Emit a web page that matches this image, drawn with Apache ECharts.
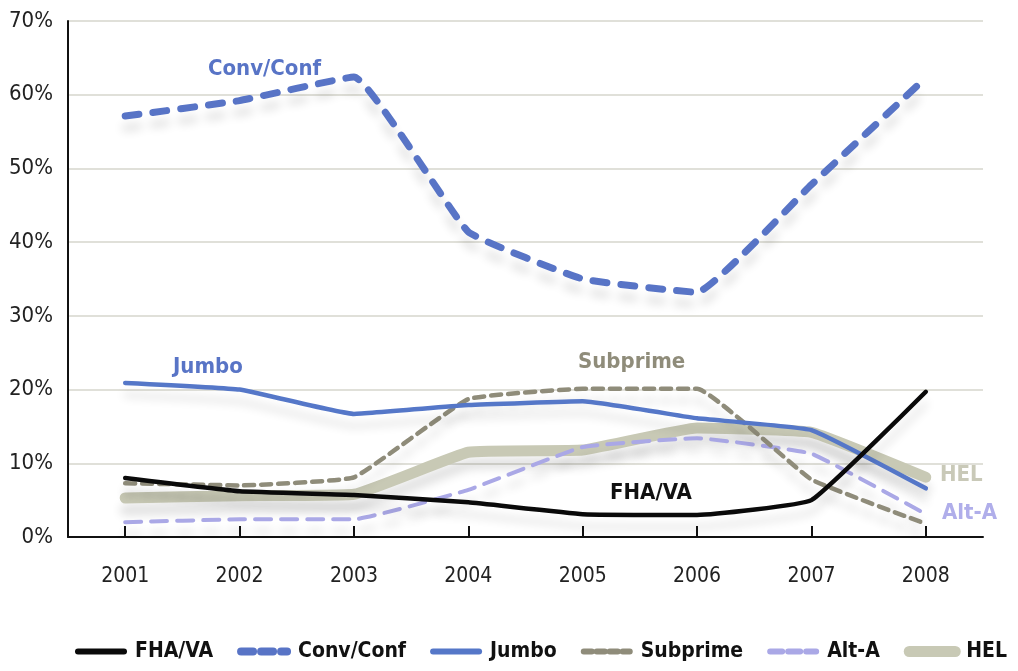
<!DOCTYPE html>
<html>
<head>
<meta charset="utf-8">
<script src="https://cdn.jsdelivr.net/npm/echarts@6/dist/echarts.min.js"></script>
<style>
  html, body { margin: 0; padding: 0; background: #fff; }
  #chart { width: 1018px; height: 671px; }
</style>
</head>
<body>
<div id="chart"></div>
<script>
const years = ['2001', '2002', '2003', '2004', '2005', '2006', '2007', '2008']
const fhaVa = [8.0, 6.2, 5.7, 4.7, 3.1, 3.0, 5.0, 19.7]
const convConf = [57.1, 59.2, 62.4, 41.4, 35.0, 33.2, 47.8, 62.3]
const jumbo = [20.9, 20.0, 16.7, 17.9, 18.4, 16.1, 14.5, 6.6]
const subprime = [7.3, 7.0, 8.1, 18.7, 20.1, 20.1, 7.8, 1.8]
const altA = [2.0, 2.4, 2.4, 6.4, 12.2, 13.4, 11.3, 3.1]
const hel = [5.3, 5.6, 5.8, 11.5, 11.8, 14.8, 14.2, 8.1]

const font = '"DejaVu Sans Condensed", "Liberation Sans Narrow", Roboto, sans-serif'
const shadow = { shadowColor: 'rgba(0,0,0,0.12)', shadowBlur: 10, shadowOffsetY: 12 }

function line (name, data, color, width, type, z) {
  return {
    name,
    type: 'line',
    data,
    z,
    symbol: 'none',
    smooth: 0.1,
    lineStyle: Object.assign({ color, width, type, cap: 'round', join: 'round' }, shadow),
    itemStyle: { color }
  }
}

function legendItem (name, color, width, type) {
  return { name, itemStyle: { opacity: 0 }, lineStyle: { color, width, type, cap: 'round', shadowBlur: 0, shadowOffsetY: 0 } }
}

const chart = echarts.init(document.getElementById('chart'), null, { renderer: 'canvas' })

chart.setOption({
  backgroundColor: '#ffffff',
  animation: false,
  grid: { left: 68, right: 35, top: 21, bottom: 134, containLabel: false },
  xAxis: {
    type: 'category',
    data: years,
    boundaryGap: true,
    axisLine: { lineStyle: { color: '#111', width: 2 } },
    axisTick: { show: true, inside: true, alignWithLabel: true, length: 11, lineStyle: { color: '#111', width: 2 } },
    axisLabel: { color: '#222', fontSize: 21, fontFamily: font, margin: 29 },
    splitLine: { show: false }
  },
  yAxis: {
    type: 'value',
    min: 0,
    max: 70,
    interval: 10,
    axisLine: { show: true, lineStyle: { color: '#111', width: 2 } },
    axisTick: { show: false },
    axisLabel: { formatter: '{value}%', color: '#222', fontSize: 22, fontFamily: font, margin: 15 },
    splitLine: { lineStyle: { color: '#d6d6cc', width: 1.5 } }
  },
  legend: {
    bottom: 4,
    left: 70,
    itemWidth: 46,
    itemHeight: 10,
    itemGap: 24,
    textStyle: { fontSize: 21, fontWeight: 'bold', fontFamily: font, color: '#111', padding: [0, 0, 0, 6] },
    data: [
      legendItem('FHA/VA', '#0a0a0a', 6, 'solid'),
      legendItem('Conv/Conf', '#5874c6', 8, [12, 8]),
      legendItem('Jumbo', '#5577c8', 6, 'solid'),
      legendItem('Subprime', '#8f8c7a', 6, [8, 5]),
      legendItem('Alt-A', '#aaa8e6', 6, [12, 6]),
      legendItem('HEL', '#c8c9b5', 11, 'solid')
    ]
  },
  graphic: [
    { type: 'text', left: 208, top: 58, style: { text: 'Conv/Conf', fill: '#5874c6', font: 'bold 22px ' + font } },
    { type: 'text', left: 173, top: 356, style: { text: 'Jumbo', fill: '#5874c6', font: 'bold 22px ' + font } },
    { type: 'text', left: 578, top: 351, style: { text: 'Subprime', fill: '#8f8c7a', font: 'bold 22px ' + font } },
    { type: 'text', left: 610, top: 482, style: { text: 'FHA/VA', fill: '#111', font: 'bold 22px ' + font } },
    { type: 'text', left: 940, top: 464, style: { text: 'HEL', fill: '#c9c9b8', font: 'bold 22px ' + font } },
    { type: 'text', left: 942, top: 502, style: { text: 'Alt-A', fill: '#b0aeea', font: 'bold 22px ' + font } }
  ],
  series: [
    line('HEL', hel, '#c8c9b5', 11, 'solid', 1),
    line('Alt-A', altA, '#aaa8e6', 4, [16, 10], 2),
    line('Subprime', subprime, '#8f8c7a', 4.5, [10, 7], 3),
    line('Jumbo', jumbo, '#5577c8', 4.5, 'solid', 4),
    line('Conv/Conf', convConf, '#5874c6', 7, [14, 14], 5),
    line('FHA/VA', fhaVa, '#0a0a0a', 4.5, 'solid', 6)
  ]
})
</script>
</body>
</html>
